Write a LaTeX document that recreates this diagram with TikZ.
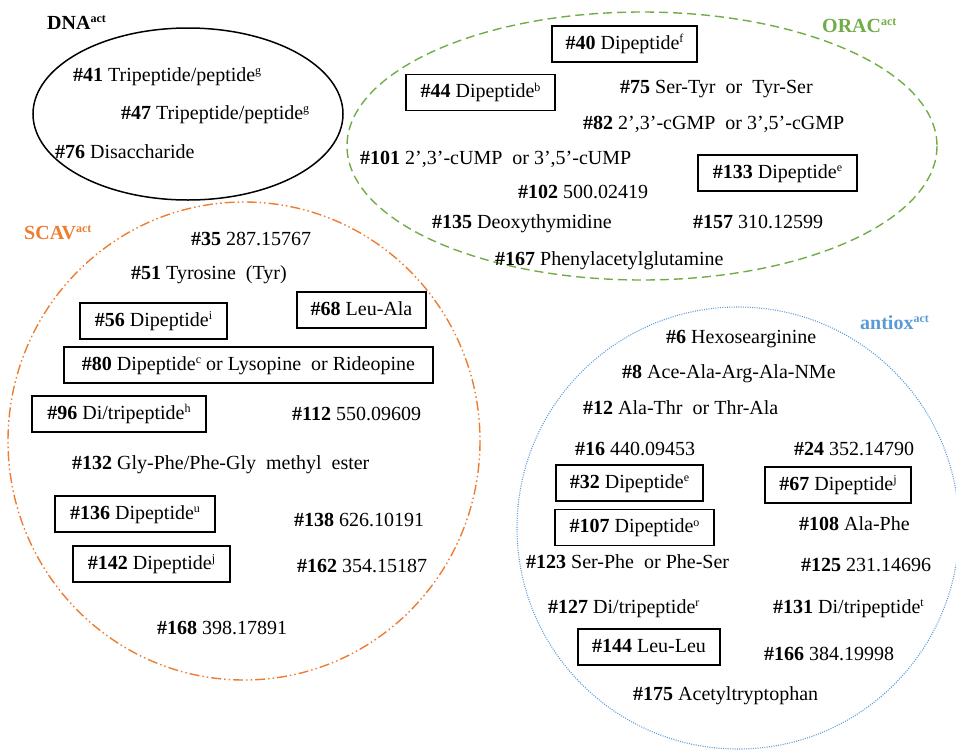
\documentclass[tikz,border=0pt]{standalone}
\usepackage{fontspec}
\setmainfont{Liberation Serif}
\definecolor{gORAC}{RGB}{112,173,71}
\definecolor{oSCAV}{RGB}{237,125,49}
\definecolor{bANT}{RGB}{91,155,213}
\newcommand{\sps}[1]{\raisebox{6.5pt}{\fontsize{12}{12}\selectfont #1}}
\begin{document}
\begin{tikzpicture}[x=1pt,y=-1pt,
  every node/.style={font=\fontsize{20}{24}\selectfont, text height=14pt, text depth=4pt},
  lbl/.style={anchor=base west, inner sep=0pt},
  boxed/.style={draw=black, line width=1.2pt, minimum height=36pt, inner sep=0pt, anchor=center},
  ttl/.style={anchor=base west, inner sep=0pt, font=\fontsize{20}{24}\selectfont\bfseries},
  dnaline/.style={draw=black, line width=1.5pt},
  oracline/.style={draw=gORAC, line width=1.4pt, dash pattern=on 9pt off 5pt},
  scavline/.style={draw=oSCAV, line width=1.4pt, dash pattern=on 10pt off 3pt on 1.5pt off 3pt on 1.5pt off 3pt},
  antline/.style={draw=bANT, line width=1.1pt, dash pattern=on 1pt off 1.3pt},
]
\useasboundingbox (0,0) rectangle (956,750);
% ellipses
\draw[dnaline] (188,114) ellipse [x radius=155, y radius=86];
\draw[oracline] (642,146) ellipse [x radius=295, y radius=134];
\draw[scavline] (244,441) ellipse [x radius=236, y radius=239];
\draw[antline] (738,528) ellipse [x radius=221, y radius=221];
% titles
\node[ttl, text=black] (tDNA) at (47,29) {DNA\sps{act}};
\node[ttl, text=gORAC] (tORAC) at (822,32) {ORAC\sps{act}};
\node[ttl, text=oSCAV] (tSCAV) at (24,239) {SCAV\sps{act}};
\node[ttl, text=bANT] (tANT) at (860,329) {antiox\sps{act}};
% DNA
\node[lbl] (n41) at (73,81) {\textbf{\#41} Tripeptide/peptide\sps{g}};
\node[lbl] (n47) at (121,119) {\textbf{\#47} Tripeptide/peptide\sps{g}};
\node[lbl] (n76) at (55,158) {\textbf{\#76} Disaccharide};
% ORAC
\node[boxed, minimum width=145pt] (n40) at (624.5,44) {\textbf{\#40} Dipeptide\sps{f}};
\node[boxed, minimum width=149pt] (n44) at (480.5,92.5) {\textbf{\#44} Dipeptide\sps{b}};
\node[lbl] (n75) at (620,93) {\textbf{\#75} Ser-Tyr\ \ or\ \ Tyr-Ser};
\node[lbl] (n82) at (583,129) {\textbf{\#82} 2',3'-cGMP\ \ or\ 3',5'-cGMP};
\node[lbl] (n101) at (360,164) {\textbf{\#101} 2',3'-cUMP\ \ or\ 3',5'-cUMP};
\node[boxed, minimum width=159pt] (n133) at (777.5,173) {\textbf{\#133} Dipeptide\sps{e}};
\node[lbl] (n102) at (518,198) {\textbf{\#102} 500.02419};
\node[lbl] (n135) at (432,228) {\textbf{\#135} Deoxythymidine};
\node[lbl] (n157) at (693,228) {\textbf{\#157} 310.12599};
\node[lbl] (n167) at (495,265) {\textbf{\#167} Phenylacetylglutamine};
% SCAV
\node[lbl] (n35) at (191,245) {\textbf{\#35} 287.15767};
\node[lbl] (n51) at (131,279) {\textbf{\#51} Tyrosine\ \ (Tyr)};
\node[boxed, minimum width=147pt] (n56) at (153.5,321) {\textbf{\#56} Dipeptide\sps{i}};
\node[boxed, minimum width=129pt] (n68) at (361.5,310) {\textbf{\#68} Leu-Ala};
\node[boxed, minimum width=369pt] (n80) at (248.5,365) {\textbf{\#80} Dipeptide\sps{c} or Lysopine\ \ or Rideopine};
\node[boxed, minimum width=174pt] (n96) at (119,414) {\textbf{\#96} Di/tripeptide\sps{h}};
\node[lbl] (n112) at (292,420) {\textbf{\#112} 550.09609};
\node[lbl] (n132) at (72,469) {\textbf{\#132} Gly-Phe/Phe-Gly\ \ methyl\ \ ester};
\node[boxed, minimum width=160pt] (n136) at (135,514) {\textbf{\#136} Dipeptide\sps{u}};
\node[lbl] (n138) at (294,526) {\textbf{\#138} 626.10191};
\node[boxed, minimum width=157pt] (n142) at (151.5,564) {\textbf{\#142} Dipeptide\sps{j}};
\node[lbl] (n162) at (297,572) {\textbf{\#162} 354.15187};
\node[lbl] (n168) at (157,634) {\textbf{\#168} 398.17891};
% antiox
\node[lbl] (n6) at (666,343) {\textbf{\#6} Hexosearginine};
\node[lbl] (n8) at (622,378) {\textbf{\#8} Ace-Ala-Arg-Ala-NMe};
\node[lbl] (n12) at (583,414) {\textbf{\#12} Ala-Thr\ \ or\ Thr-Ala};
\node[lbl] (n16) at (575,455) {\textbf{\#16} 440.09453};
\node[lbl] (n24) at (794,455) {\textbf{\#24} 352.14790};
\node[boxed, minimum width=147pt] (n32) at (629.5,483) {\textbf{\#32} Dipeptide\sps{e}};
\node[boxed, minimum width=146pt] (n67) at (838,485) {\textbf{\#67} Dipeptide\sps{j}};
\node[boxed, minimum width=159pt] (n107) at (634.5,527.5) {\textbf{\#107} Dipeptide\sps{o}};
\node[lbl] (n108) at (799,530) {\textbf{\#108} Ala-Phe};
\node[lbl] (n123) at (526,568) {\textbf{\#123} Ser-Phe\ \ or\ Phe-Ser};
\node[lbl] (n125) at (801,571) {\textbf{\#125} 231.14696};
\node[lbl] (n127) at (548,613) {\textbf{\#127} Di/tripeptide\sps{r}};
\node[lbl] (n131) at (773,613) {\textbf{\#131} Di/tripeptide\sps{t}};
\node[boxed, minimum width=142pt] (n144) at (649,647) {\textbf{\#144} Leu-Leu};
\node[lbl] (n166) at (764,660) {\textbf{\#166} 384.19998};
\node[lbl] (n175) at (633,700) {\textbf{\#175} Acetyltryptophan};
\end{tikzpicture}
\end{document}
